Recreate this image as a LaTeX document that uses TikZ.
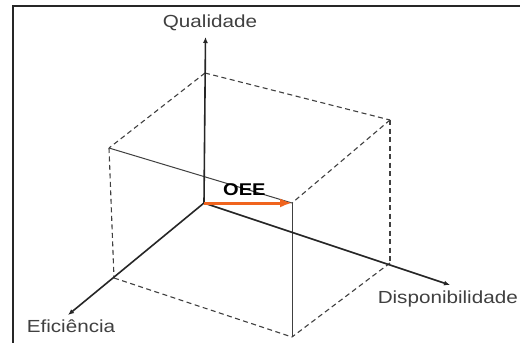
\documentclass[tikz,border=0pt]{standalone}
\usepackage{fontspec}
\setmainfont{Liberation Sans}
\newfontfamily\lblfont[FakeStretch=1.18]{Liberation Sans}
\usetikzlibrary{arrows.meta}
\definecolor{oeeorange}{RGB}{240,100,30}
\begin{document}
\begin{tikzpicture}[x=1pt,y=-1pt,
 axis/.style={draw=black!85, line width=1.6pt, -{Latex[length=6pt,width=5pt]}},
 hidden/.style={draw=black!75, line width=1.1pt, dash pattern=on 5pt off 3.5pt},
 edge/.style={draw=black!75, line width=1pt},
 lbl/.style={font=\lblfont\fontsize{17.5}{20}\selectfont, text=black!75, inner sep=0pt}]
\useasboundingbox (0,0) rectangle (520,343);
\fill[white] (0,0) rectangle (520,343);
\draw[line width=2.4pt, black!85] (13,345) -- (13,6) -- (522,6);
% origin and axis ends
\coordinate (O) at (204,203);
\coordinate (Qend) at (205.5,37);
\coordinate (Eend) at (68,315);
\coordinate (Dend) at (450,285);
% cube vertices
\coordinate (TB) at (205,73);
\coordinate (LT) at (109,148);
\coordinate (RT) at (390,120);
\coordinate (FT) at (292,203);
\coordinate (LB) at (114,278);
\coordinate (RB) at (390,263);
\coordinate (FB) at (292,337);
% hidden edges
\draw[hidden] (TB) -- (LT);
\draw[hidden] (TB) -- (RT);
\draw[hidden] (RT) -- (FT);
\draw[hidden] (LT) -- (LB);
\draw[hidden] (RT) -- (RB);
\draw[hidden] (LB) -- (FB);
\draw[hidden] (RB) -- (FB);
% solid edges
\draw[edge] (LT) -- (FT);
\draw[edge] (FT) -- (FB);
% axes
\draw[axis] (O) -- (Qend);
\draw[axis] (O) -- (Eend);
\draw[axis] (O) -- (Dend);
% OEE vector
\draw[draw=oeeorange, line width=3pt, -{Latex[length=12pt,width=9pt]}] (O) -- (FT);
% labels
\node[lbl, anchor=base] (q) at (210,27) {Qualidade};
\node[lbl, anchor=base] (e) at (71,332) {Eficiência};
\node[lbl, anchor=base east] (d) at (518,303) {Disponibilidade};
\node[lbl, anchor=base west, text=black, font=\lblfont\fontsize{17}{20}\selectfont\bfseries] (oee) at (223,195) {OEE};
\end{tikzpicture}
\end{document}
